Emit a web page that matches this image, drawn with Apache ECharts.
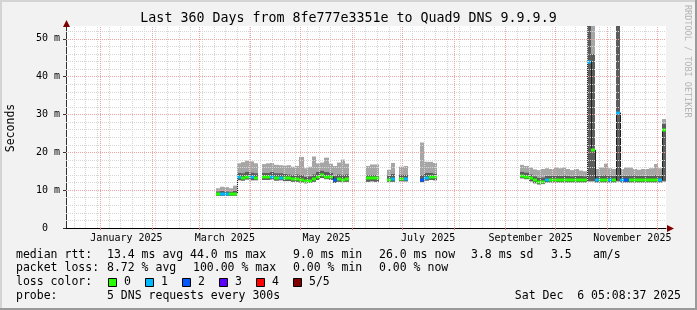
<!DOCTYPE html>
<html><head><meta charset="utf-8">
<script src="https://cdn.jsdelivr.net/npm/echarts@6/dist/echarts.min.js"></script>
<style>html,body{margin:0;padding:0;background:#f2f2f2}#c{width:697px;height:310px}</style>
</head><body><div id="c"></div>
<script>
// ---------- text ----------
const titleText = 'Last 360 Days from 8fe777e3351e to Quad9 DNS 9.9.9.9';
const yName = 'Seconds';
const watermark = 'RRDTOOL / TOBI OETIKER';
const monthLabels = ['January 2025', 'March 2025', 'May 2025', 'July 2025', 'September 2025', 'November 2025'];
const monthLabelIdx = [0, 2, 4, 6, 8, 10];           // month index in 2025
const yTicks = [0, 10, 20, 30, 40, 50];
const medianStats = ['13.4 ms avg', '44.0 ms max', '9.0 ms min', '26.0 ms now', '3.8 ms sd', '3.5', 'am/s'];
const lossStats = ['8.72 % avg', '100.00 % max', '0.00 % min', '0.00 % now'];
const lossColors = ['#26ff00', '#00b8ff', '#0059ff', '#5e00ff', '#ff0000', '#7e0000'];
const lossLabels = ['0', '1', '2', '3', '4', '5/5'];
const probeText = '5 DNS requests every 300s';
const dateText = 'Sat Dec  6 05:08:37 2025';

// ---------- time frame ----------
const DAY = 86400000;
const endTime = Date.UTC(2025, 11, 6, 5, 8, 37);
const spanDays = 360;
const stepDays = 2.5;

// ---------- data (one entry per 2.5-day bucket that has data) ----------
const bucket = [
  36, 37, 38, 39, 40,
  41, 42, 43, 44, 45,
  47, 48, 49, 50, 51, 52, 53, 54, 55, 56, 57,
  58, 59, 60, 61, 62, 63,
  64, 65, 66, 67,
  72, 73, 74,
  77, 78,
  80, 81,
  85, 86, 87, 88,
  109, 110, 111, 112, 113, 114, 115, 116, 117, 118, 119, 120, 121, 122, 123, 124,
  125, 126,
  127, 128, 129, 130, 131,
  132,
  133, 134, 135, 136, 137, 138, 139, 140, 141, 142, 143
];
const median = [
  9.0, 9.0, 9.0, 9.0, 9.0,
  13.4, 13.2, 13.6, 13.4, 13.3,
  13.4, 13.4, 13.5, 13.2, 13.3, 13.1, 13.1, 12.9, 12.9, 12.8, 12.5,
  12.5, 12.9, 13.5, 14.0, 13.6, 13.4,
  12.6, 12.9, 12.8, 12.9,
  13.1, 13.2, 13.1,
  12.8, 12.9,
  13.0, 13.0,
  12.8, 13.3, 13.5, 13.4,
  13.8, 13.6, 13.1, 12.6, 12.2, 12.2, 12.6, 12.6, 12.6, 12.6, 12.6, 12.6, 12.6, 12.6, 12.7, 12.6,
  44.0, 20.6,
  12.6, 12.6, 12.7, 12.6, 12.6,
  30.5,
  12.6, 12.6, 12.6, 12.7, 12.6, 12.6, 12.6, 12.6, 12.7, 12.6, 26.0
];
const smokeLo = [
  8.5, 8.5, 8.5, 8.5, 8.5,
  12.6, 12.5, 12.8, 12.6, 12.6,
  12.7, 12.7, 12.8, 12.5, 12.6, 12.4, 12.4, 12.2, 12.2, 12.0, 11.8,
  11.9, 12.2, 12.7, 13.2, 12.9, 12.7,
  11.9, 12.2, 12.1, 12.2,
  12.2, 12.3, 12.2,
  12.1, 12.2,
  12.3, 12.3,
  12.1, 12.5, 12.7, 12.6,
  13.1, 12.9, 12.3, 11.8, 11.5, 11.6, 12.0, 12.0, 12.0, 12.0, 12.0, 12.0, 12.0, 12.0, 12.0, 12.0,
  12.3, 12.3,
  12.0, 12.0, 12.0, 12.0, 12.0,
  12.3,
  12.0, 12.0, 12.0, 12.0, 12.0, 12.0, 12.0, 12.0, 12.0, 12.0, 12.3
];
const smokeMid = [
  9.7, 9.8, 9.7, 9.6, 9.9,
  14.6, 14.5, 14.9, 14.7, 14.5,
  14.6, 14.6, 14.8, 14.5, 14.5, 14.3, 14.2, 14.1, 14.2, 14.0, 13.6,
  13.7, 14.2, 14.8, 15.2, 14.8, 14.6,
  13.8, 14.2, 14.1, 14.2,
  14.0, 14.1, 14.0,
  13.9, 14.3,
  14.1, 14.1,
  14.0, 14.6, 14.6, 14.4,
  14.9, 14.7, 14.2, 13.7, 13.3, 13.4, 13.8, 13.8, 13.9, 13.8, 13.9, 13.8, 13.7, 13.8, 13.8, 13.7,
  60, 46,
  13.8, 13.9, 14.0, 13.8, 13.8,
  60,
  13.8, 13.8, 13.9, 13.9, 13.8, 13.8, 13.8, 13.8, 14.0, 13.8, 27.5
];
const smokeHi = [
  10.5, 10.9, 10.8, 10.5, 11.2,
  17.1, 17.4, 17.8, 17.6, 17.1,
  16.9, 17.1, 17.2, 16.7, 16.6, 16.5, 16.6, 16.2, 16.4, 18.8, 15.8,
  16.2, 18.9, 17.1, 17.3, 18.6, 17.0,
  16.4, 17.3, 18.1, 17.0,
  16.4, 16.8, 16.8,
  15.4, 17.2,
  16.2, 16.4,
  22.6, 17.5, 17.5, 17.2,
  16.7, 16.4, 16.0, 15.5, 15.3, 15.6, 15.8, 15.6, 16.0, 15.8, 16.0, 15.6, 15.3, 15.6, 15.2, 15.0,
  60, 60,
  15.6, 16.0, 17.0, 15.8, 15.6,
  60,
  15.6, 16.0, 16.0, 15.6, 15.4, 15.6, 15.6, 15.8, 16.9, 15.8, 28.8
];
const loss = [
  0, 1, 1, 0, 0,
  1, 0, 0, 1, 0,
  0, 0, 1, 0, 1, 0, 0, 0, 0, 0, 0,
  0, 0, 0, 0, 0, 0,
  2, 0, 0, 0,
  0, 0, 0,
  0, 1,
  0, 1,
  2, 1, 0, 0,
  0, 0, 0, 0, 0, 0, 1, 0, 0, 0, 0, 0, 0, 0, 0, 0,
  1, 0,
  1, 0, 0, 1, 0,
  1,
  1, 2, 0, 0, 0, 0, 0, 0, 0, 1, 0
];

// ---------- build ----------
const startTime = endTime - spanDays * DAY;
const smokeData = [], medData = [];
for (let i = 0; i < bucket.length; i++) {
  const t0 = startTime + bucket[i] * stepDays * DAY;
  const t1 = t0 + stepDays * DAY;
  const prev = (i > 0 && bucket[i - 1] === bucket[i] - 1) ? median[i - 1] : null;
  smokeData.push([t0, t1, smokeLo[i], smokeMid[i], smokeHi[i]]);
  medData.push([t0, t1, median[i], loss[i], prev]);
}

// grid lines: Mondays (minor) and month starts (major), y every 2 / 10
const monthStarts = [];
for (let m = 0; m < 12; m++) monthStarts.push(Date.UTC(2025, m, 1));
const weekLines = [];
for (let t = Date.UTC(2024, 11, 16); t < endTime; t += 7 * DAY) {
  if (monthStarts.indexOf(t) < 0) weekLines.push(t);
}
const yMinor = [], yMajor = [10, 20, 30, 40, 50];
for (let v = 2; v <= 52; v += 2) if (v % 10) yMinor.push(v);
const labelPos = monthLabelIdx.map(m => (Date.UTC(2025, m, 1) + Date.UTC(2025, m + 1, 1)) / 2);

const minorStyle = { color: '#d6d6d6', type: [1, 1], width: 1 };
const majorStyle = { color: '#eba3a3', type: [1, 1], width: 1 };
const gridLines = []
  .concat(weekLines.map(t => ({ xAxis: t, lineStyle: minorStyle })))
  .concat(yMinor.map(v => ({ yAxis: v, lineStyle: minorStyle })))
  .concat(monthStarts.map(t => ({ xAxis: t, lineStyle: majorStyle })))
  .concat(yMajor.map(v => ({ yAxis: v, lineStyle: majorStyle })));

const MONO = 'DejaVu Sans Mono';
const legendFont = '11.5px "DejaVu Sans Mono"';

const graphic = [
  // frame shading
  { type: 'rect', shape: { x: 0, y: 0, width: 697, height: 2 }, style: { fill: '#d4d4d4' }, silent: true },
  { type: 'rect', shape: { x: 0, y: 0, width: 2, height: 310 }, style: { fill: '#d4d4d4' }, silent: true },
  { type: 'rect', shape: { x: 695, y: 0, width: 2, height: 310 }, style: { fill: '#9a9a9a' }, silent: true },
  { type: 'rect', shape: { x: 0, y: 308, width: 697, height: 2 }, style: { fill: '#9a9a9a' }, silent: true },
  // axis arrows
  { type: 'polygon', shape: { points: [[66.5, 20], [63, 27], [70, 27]] }, style: { fill: '#7f0000' }, z: 10 },
  { type: 'polygon', shape: { points: [[674, 228.5], [667, 225], [667, 232]] }, style: { fill: '#7f0000' }, z: 10 },
  // title
  { type: 'text', x: 348.5, y: 19, style: { text: titleText, font: '13.3px "DejaVu Sans Mono"', fill: '#000', align: 'center', verticalAlign: 'middle' } },
  // y name
  { type: 'text', x: 11, y: 128, rotation: Math.PI / 2, style: { text: yName, font: legendFont, fill: '#000', align: 'center', verticalAlign: 'middle' } },
  // watermark
  { type: 'text', x: 687, y: 5, rotation: -Math.PI / 2, style: { text: watermark, font: '8.5px "DejaVu Sans Mono"', fill: '#b4b4b4', align: 'left', verticalAlign: 'middle' } }
];
function addText(t, x, y, align) {
  graphic.push({ type: 'text', x: x, y: y, style: { text: t, font: legendFont, fill: '#000', align: align || 'left', verticalAlign: 'middle' } });
}
const row = [255, 268.5, 282.5, 296];
addText('median rtt:', 16, row[0]);
[107, 190, 293, 379, 471, 551, 593].forEach((x, i) => addText(medianStats[i], x, row[0]));
addText('packet loss:', 16, row[1]);
[107, 193, 293, 379].forEach((x, i) => addText(lossStats[i], x, row[1]));
addText('loss color:', 16, row[2]);
[108, 145, 182, 219, 256, 293].forEach((x, i) => {
  graphic.push({ type: 'rect', shape: { x: x + 0.5, y: 278.5, width: 8, height: 8 }, style: { fill: lossColors[i], stroke: '#000', lineWidth: 1 } });
  addText(lossLabels[i], x + 16, row[2]);
});
addText('probe:', 16, row[3]);
addText(probeText, 107, row[3]);
addText(dateText, 681, row[3], 'right');

const chart = echarts.init(document.getElementById('c'), null, { renderer: 'canvas' });
chart.setOption({
  backgroundColor: '#f2f2f2',
  animation: false,
  grid: { left: 66, right: 31, top: 26, bottom: 82, backgroundColor: '#ffffff', show: true, borderWidth: 0 },
  xAxis: {
    type: 'value', min: startTime, max: endTime,
    axisLine: { show: true, lineStyle: { color: '#000', width: 1 } },
    axisTick: { show: true, customValues: monthStarts, length: 2, inside: false, lineStyle: { color: '#e07070' } },
    splitLine: { show: false },
    axisLabel: {
      customValues: labelPos, margin: 5, color: '#000', fontFamily: MONO, fontSize: 10,
      formatter: v => { const k = labelPos.indexOf(v); return k >= 0 ? monthLabels[k] : ''; }
    }
  },
  yAxis: {
    type: 'value', min: 0, max: 53.4,
    axisLine: { show: true, lineStyle: { color: '#333', width: 1 } },
    axisTick: { show: true, customValues: yTicks, length: 3, lineStyle: { color: '#333' } },
    splitLine: { show: false },
    axisLabel: {
      customValues: yTicks, margin: 6, color: '#000', fontFamily: MONO, fontSize: 10,
      formatter: v => v === 0 ? '0  ' : v + ' m'
    }
  },
  graphic: graphic,
  series: [
    {
      type: 'line', data: [], z: 1, silent: true,
      markLine: { silent: true, symbol: ['none', 'none'], label: { show: false }, animation: false, data: gridLines }
    },
    {
      type: 'custom', z: 2, clip: true, silent: true, data: smokeData,
      renderItem: (params, api) => {
        const a = api.coord([api.value(0), api.value(2)]);
        const b = api.coord([api.value(1), api.value(3)]);
        const c = api.coord([api.value(1), api.value(4)]);
        const x0 = Math.round(a[0]), x1 = Math.round(b[0]);
        return {
          type: 'group', children: [
            { type: 'rect', shape: { x: x0, y: c[1], width: x1 - x0, height: b[1] - c[1] }, style: { fill: '#a6a6a6' } },
            { type: 'rect', shape: { x: x0, y: b[1], width: x1 - x0, height: a[1] - b[1] }, style: { fill: '#5c5c5c' } }
          ]
        };
      }
    },
    {
      type: 'custom', z: 3, clip: true, silent: true, data: medData,
      renderItem: (params, api) => {
        const p0 = api.coord([api.value(0), api.value(2)]);
        const p1 = api.coord([api.value(1), api.value(2)]);
        const x0 = Math.round(p0[0]), x1 = Math.round(p1[0]);
        const children = [];
        const prev = medData[params.dataIndex][4];
        if (prev !== null) {
          const pp = api.coord([api.value(0), prev]);
          children.push({ type: 'line', shape: { x1: x0 + 0.5, y1: pp[1], x2: x0 + 0.5, y2: p0[1] }, style: { stroke: '#202020', lineWidth: 1 } });
        }
        children.push({ type: 'rect', shape: { x: x0, y: Math.round(p0[1]) - 1.5, width: x1 - x0, height: 3 }, style: { fill: lossColors[api.value(3)] } });
        return { type: 'group', children: children };
      }
    }
  ]
});
</script>
</body></html>
